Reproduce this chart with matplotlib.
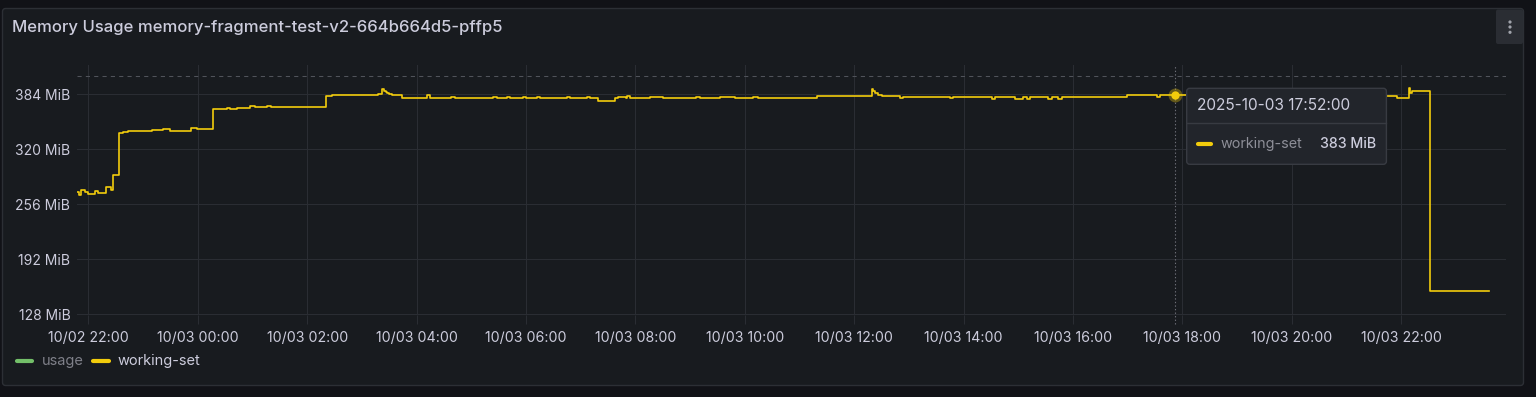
import matplotlib
matplotlib.use("Agg")
import matplotlib.pyplot as plt
import matplotlib.dates as mdates
import pandas as pd
from matplotlib.patches import FancyBboxPatch, Circle
from matplotlib.lines import Line2D

plt.rcParams['font.family'] = ['Inter', 'DejaVu Sans']

# ---------------- data ----------------
title = "Memory Usage memory-fragment-test-v2-664b664d5-pffp5"
series_names = ["usage", "working-set"]
series_colors = ["#73BF69", "#F2CC0C"]
series_hidden = [True, False]

times = [
    "2025-10-02 21:47", "2025-10-02 21:50", "2025-10-02 21:52", "2025-10-02 21:56", "2025-10-02 22:00",
    "2025-10-02 22:05", "2025-10-02 22:07", "2025-10-02 22:11", "2025-10-02 22:16", "2025-10-02 22:19",
    "2025-10-02 22:23", "2025-10-02 22:25", "2025-10-02 22:27", "2025-10-02 22:33", "2025-10-02 22:34",
    "2025-10-02 22:38", "2025-10-02 22:44", "2025-10-02 22:53", "2025-10-02 23:06", "2025-10-02 23:10",
    "2025-10-02 23:22", "2025-10-02 23:30", "2025-10-02 23:48", "2025-10-02 23:53", "2025-10-02 23:59",
    "2025-10-03 00:16", "2025-10-03 00:17", "2025-10-03 00:23", "2025-10-03 00:32", "2025-10-03 00:35",
    "2025-10-03 00:43", "2025-10-03 00:50", "2025-10-03 00:57", "2025-10-03 01:03", "2025-10-03 01:16",
    "2025-10-03 01:20", "2025-10-03 01:30", "2025-10-03 01:34", "2025-10-03 01:49", "2025-10-03 01:53",
    "2025-10-03 02:03", "2025-10-03 02:07", "2025-10-03 02:20", "2025-10-03 02:21", "2025-10-03 02:25",
    "2025-10-03 02:27", "2025-10-03 03:00", "2025-10-03 03:18", "2025-10-03 03:22", "2025-10-03 03:24",
    "2025-10-03 03:26", "2025-10-03 03:28", "2025-10-03 03:30", "2025-10-03 03:33", "2025-10-03 03:44",
    "2025-10-03 04:09", "2025-10-03 04:11", "2025-10-03 04:15", "2025-10-03 04:18", "2025-10-03 04:38",
    "2025-10-03 04:42", "2025-10-03 05:24", "2025-10-03 05:28", "2025-10-03 05:39", "2025-10-03 05:42",
    "2025-10-03 05:57", "2025-10-03 06:00", "2025-10-03 06:12", "2025-10-03 06:15", "2025-10-03 06:45",
    "2025-10-03 06:48", "2025-10-03 07:07", "2025-10-03 07:10", "2025-10-03 07:19", "2025-10-03 07:36",
    "2025-10-03 07:38", "2025-10-03 07:41", "2025-10-03 07:50", "2025-10-03 07:51", "2025-10-03 07:54",
    "2025-10-03 08:16", "2025-10-03 08:30", "2025-10-03 09:07", "2025-10-03 09:11", "2025-10-03 09:33",
    "2025-10-03 09:44", "2025-10-03 09:49", "2025-10-03 10:09", "2025-10-03 10:14", "2025-10-03 11:19",
    "2025-10-03 12:19", "2025-10-03 12:21", "2025-10-03 12:23", "2025-10-03 12:26", "2025-10-03 12:30",
    "2025-10-03 12:36", "2025-10-03 12:47", "2025-10-03 12:50", "2025-10-03 12:54", "2025-10-03 13:45",
    "2025-10-03 13:48", "2025-10-03 14:31", "2025-10-03 14:34", "2025-10-03 14:56", "2025-10-03 15:05",
    "2025-10-03 15:09", "2025-10-03 15:13", "2025-10-03 15:33", "2025-10-03 15:37", "2025-10-03 15:44",
    "2025-10-03 15:48", "2025-10-03 16:59", "2025-10-03 17:28", "2025-10-03 17:32", "2025-10-03 17:35",
    "2025-10-03 17:52", "2025-10-03 18:10", "2025-10-03 18:40", "2025-10-03 19:20", "2025-10-03 20:00",
    "2025-10-03 20:40", "2025-10-03 21:20", "2025-10-03 21:43", "2025-10-03 21:55", "2025-10-03 22:08",
    "2025-10-03 22:10", "2025-10-03 22:12", "2025-10-03 22:31", "2025-10-03 23:36",
]
working_set = [
    269.6, 266.5, 273.0, 270.0, 267.5,
    267.3, 271.5, 269.0, 269.0, 275.4,
    276.0, 273.0, 290.0, 290.0, 338.3,
    339.5, 341.3, 340.5, 340.5, 342.5,
    343.0, 341.0, 341.0, 344.8, 343.3,
    343.3, 366.2, 367.0, 368.0, 367.0,
    367.5, 368.0, 369.8, 368.5, 369.5,
    368.5, 369.3, 368.5, 369.3, 368.5,
    369.3, 368.5, 368.5, 381.3, 381.3,
    382.5, 383.0, 383.5, 389.5, 388.0,
    386.5, 385.0, 383.5, 382.5, 379.7,
    379.5, 382.5, 379.5, 378.8, 380.5,
    378.8, 380.3, 378.8, 380.3, 378.8,
    380.3, 378.8, 380.3, 378.8, 380.3,
    378.8, 380.3, 378.8, 375.5, 375.5,
    378.9, 380.0, 379.7, 381.5, 379.5,
    380.2, 379.5, 380.5, 379.5, 380.5,
    380.3, 379.5, 380.8, 379.5, 381.3,
    390.2, 388.0, 385.5, 383.0, 382.0,
    381.3, 381.5, 379.5, 380.8, 379.5,
    380.9, 377.8, 380.9, 377.8, 380.9,
    377.8, 380.9, 377.8, 380.9, 377.8,
    380.9, 382.5, 382.5, 380.0, 382.5,
    382.8, 382.3, 383.2, 382.6, 383.0,
    382.5, 383.2, 382.0, 379.7, 390.6,
    384.8, 387.9, 155.5, 155.5,
]

y_ticks = [128, 192, 256, 320, 384]
y_tick_labels = ["128 MiB", "192 MiB", "256 MiB", "320 MiB", "384 MiB"]
x_tick_start = "2025-10-02 22:00"
x_tick_end = "2025-10-03 22:00"
x_range = ("2025-10-02 21:47:36", "2025-10-03 23:54:30")
y_range = (127.2, 418.3)
dashed_level = 405

tooltip_time = "2025-10-03 17:52:00"
tooltip_series = "working-set"
tooltip_value = 382.8
tooltip_label = "383 MiB"

# ---------------- style ----------------
W, H = 1536, 397
OUTER_BG = "#111217"
PANEL_BG = "#181b1f"
BORDER = "#2c2f35"
GRID = "#2a2d33"
TEXT = "#ccccdc"
TEXT_DIM = "#7e7f88"

fig = plt.figure(figsize=(W / 100, H / 100), dpi=100, facecolor=OUTER_BG)

def fr(x0, y0, x1, y1):
    return [x0 / W, 1 - y1 / H, (x1 - x0) / W, (y1 - y0) / H]

# background canvas in pixel coords
bg = fig.add_axes([0, 0, 1, 1], zorder=0)
bg.set_xlim(0, W)
bg.set_ylim(H, 0)
bg.axis("off")
bg.add_patch(FancyBboxPatch((2.5, 8.5), 1521, 377, boxstyle="round,pad=0,rounding_size=3",
                            fc=PANEL_BG, ec=BORDER, lw=1))
bg.text(12.3, 27.5, title, color=TEXT, fontsize=12, fontweight="medium", va="center", ha="left")
# menu button
bg.add_patch(FancyBboxPatch((1496, 9.5), 27, 34.5, boxstyle="round,pad=0,rounding_size=2",
                            fc="#2a2d33", ec="none"))
for yy in (22, 27, 32.3):
    bg.add_patch(Circle((1510, yy), 1.6, fc="#a0a3ab", ec="none"))

# legend
leg_items = [(17.3, 31.7, 41.7), (93.3, 108.7, 117.7)]
for (xa, xb, xt), name, col, hid in zip(leg_items, series_names, series_colors, series_hidden):
    bg.add_line(Line2D([xa, xb], [361, 361], color=col, lw=3, solid_capstyle="round"))
    bg.text(xt, 360.5, name, color=TEXT_DIM if hid else TEXT, fontsize=10.5, va="center", ha="left")

# main plot
ax = fig.add_axes(fr(77, 64.5, 1505.7, 315), zorder=1)
ax.set_facecolor("none")
for s in ax.spines.values():
    s.set_visible(False)

t = pd.to_datetime(times)
ax.plot(t, working_set, color=series_colors[1], lw=1.2, drawstyle="steps-post", zorder=3)

ax.set_xlim(pd.Timestamp(x_range[0]), pd.Timestamp(x_range[1]))
ax.set_ylim(*y_range)
ax.set_yticks(y_ticks)
ax.set_yticklabels(y_tick_labels)
ax.set_xticks(pd.date_range(x_tick_start, x_tick_end, freq="2h"))
ax.xaxis.set_major_formatter(mdates.DateFormatter("%m/%d %H:%M"))
ax.grid(True, color=GRID, lw=0.75)
ax.tick_params(axis="y", length=0, pad=4.8, labelcolor=TEXT, labelsize=10)
ax.tick_params(axis="x", length=6.2, width=0.75, color=GRID, pad=5.0, labelcolor=TEXT, labelsize=10.2)
ax.axhline(dashed_level, color="#50535a", lw=0.75, ls=(0, (4, 4)), zorder=2)

tt = pd.Timestamp(tooltip_time)
ax.axvline(tt, ymin=-0.034, ymax=1, color="#6e7078", lw=0.8, ls=(0, (1.2, 2)), clip_on=False, zorder=2)
ax.plot([tt], [tooltip_value], "o", ms=10, color=series_colors[1], alpha=0.35, mec="none", zorder=4)
ax.plot([tt], [tooltip_value], "o", ms=6, color=series_colors[1], mec="none", zorder=5)

# tooltip overlay
ov = fig.add_axes([0, 0, 1, 1], zorder=3)
ov.set_xlim(0, W)
ov.set_ylim(H, 0)
ov.axis("off")
ov.patch.set_alpha(0)
ov.add_patch(FancyBboxPatch((1186.7, 88.3), 199.7, 76, boxstyle="round,pad=0,rounding_size=3",
                            fc="#22252b", ec="#383b42", lw=1))
ov.add_line(Line2D([1187, 1386], [123.3, 123.3], color="#383b42", lw=1))
ov.text(1196.7, 105.5, tooltip_time, color=TEXT, fontsize=11.1, va="center", ha="left")
ov.add_line(Line2D([1197.5, 1211], [144, 144], color=series_colors[1], lw=3, solid_capstyle="round"))
ov.text(1221, 144, tooltip_series, color="#8e8f98", fontsize=10.3, va="center", ha="left")
ov.text(1376.5, 144, tooltip_label, color=TEXT, fontsize=10.2, fontweight="medium", va="center", ha="right")

fig.savefig("out.png", dpi=100, facecolor=OUTER_BG)
